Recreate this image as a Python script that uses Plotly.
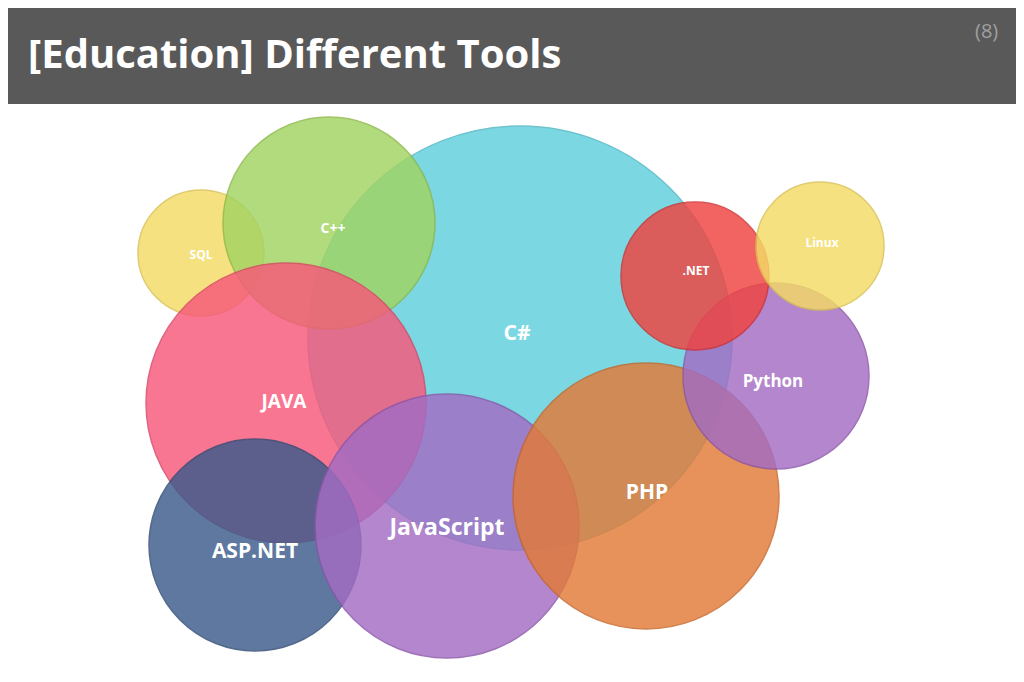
import plotly.graph_objects as go

names = ["C#", "SQL", "C++", "JAVA", "ASP.NET", "JavaScript", "PHP", "Python", ".NET", "Linux"]
cx = [520, 201, 329, 286, 255, 447, 646, 776, 695, 820]
cy = [338, 253, 223, 403, 545, 526, 496, 376, 276, 246]
radius = [212, 63, 106, 140, 106, 132, 133, 93, 74, 64]
colors = ["#5fcfdc", "#f5db65", "#a2d462", "#f7587a", "#3b5b8c", "#a36cc3",
          "#e27a38", "#a36cc3", "#f0433f", "#f5db65"]
lines = ["#4fb8c4", "#d8c050", "#8cb848", "#d94464", "#2e4a74", "#8a55a8",
         "#c86528", "#8a55a8", "#d03030", "#d8c050"]
label_x = [517, 201, 333, 284, 255, 447, 647, 773, 696, 822]
label_y = [335, 256, 229, 403, 553, 529, 494, 383, 272, 244]
label_size = [21, 12, 14, 19, 21, 23, 21, 17, 12, 12]

off = 8  # page body margin
W, H = 1024, 682

fig = go.Figure()
for i in range(len(names)):
    fig.add_trace(go.Scatter(
        x=[cx[i]], y=[cy[i]], mode="markers", hoverinfo="skip",
        marker=dict(size=2 * radius[i], sizemode="diameter", color=colors[i],
                    opacity=0.82, line=dict(color=lines[i], width=1.5)),
        showlegend=False))
fig.add_trace(go.Scatter(
    x=label_x, y=label_y, mode="text", text=names, showlegend=False,
    textfont=dict(color="white", size=label_size, family="Open Sans"),
    texttemplate="<b>%{text}</b>"))

fig.update_layout(
    width=W, height=H, margin=dict(l=0, r=0, t=0, b=0),
    plot_bgcolor="white", paper_bgcolor="white",
    xaxis=dict(range=[off, W + off], visible=False, fixedrange=True),
    yaxis=dict(range=[H + off, off], visible=False, fixedrange=True),
    shapes=[dict(type="rect", xref="x", yref="y", x0=0, x1=W + off,
                 y0=0, y1=104, fillcolor="#595959", line=dict(width=0),
                 layer="above")],
    annotations=[
        dict(text="<b>[Education] Different Tools</b>", xref="x", yref="y",
             x=26, y=52, xanchor="left", yanchor="middle",
             showarrow=False, font=dict(color="white", size=40, family="Open Sans")),
        dict(text="(8)", xref="x", yref="y", x=1000, y=30,
             xanchor="right", yanchor="middle", showarrow=False,
             font=dict(color="#a0a0a0", size=20, family="Open Sans")),
    ],
)
fig.write_html("out.html")
